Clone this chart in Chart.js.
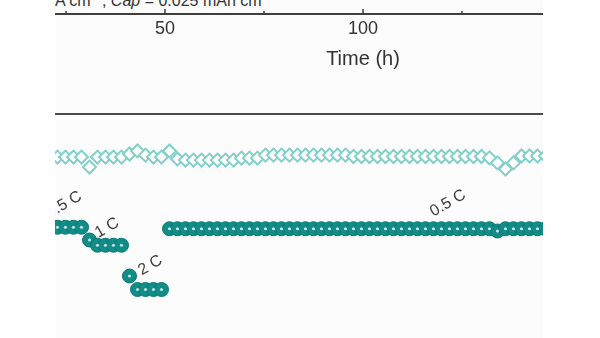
<!DOCTYPE html>
<html>
<head>
<meta charset="utf-8">
<script src="https://cdn.jsdelivr.net/npm/chart.js@4.4.1/dist/chart.umd.min.js"></script>
<style>
  html, body { margin: 0; padding: 0; background: #fff; }
  body { width: 600px; height: 338px; position: relative; overflow: hidden; }
  #frame { position: absolute; left: 55px; top: 0; width: 488px; height: 338px; overflow: hidden; background: #fcfcfc; }
  #timeChart { position: absolute; left: -92px; top: -60px; }
  #rateChart { position: absolute; left: 0; top: 112px; }
  #cond { position: absolute; right: 270px; top: -7px; font: 16px Arial, "Liberation Sans", sans-serif; line-height: 16px; color: #333; white-space: nowrap; }
  #cond sup { font-size: 10px; line-height: 0; vertical-align: 7px; }
</style>
</head>
<body>
<div id="frame">
  <div id="cond"><i>J</i> = 0.05 mA cm<sup>−2</sup>, <i>Cap</i> = 0.025 mAh cm<sup>−2</sup></div>
  <canvas id="timeChart" width="800" height="140"></canvas>
  <canvas id="rateChart" width="488" height="302"></canvas>
</div>
<script>
  /* ── data ── */
  // upper panel: time axis (h)
  var timeMin = 0, timeMax = 200, timeStep = 25;
  var labeledTimes = [50, 100, 150];

  // lower panel: rate test, one point per cycle
  var cycles = [
    1, 2, 3, 4, 5, 6, 7, 8, 9, 10,
    11, 12, 13, 14, 15, 16, 17, 18, 19, 20,
    21, 22, 23, 24, 25, 26, 27, 28, 29, 30,
    31, 32, 33, 34, 35, 36, 37, 38, 39, 40,
    41, 42, 43, 44, 45, 46, 47, 48, 49, 50,
    51, 52, 53, 54, 55, 56, 57, 58, 59, 60,
    61, 62, 63
  ];
  // capacity, mAh cm-2 (filled circles)
  var capacity = [
    0.0249, 0.0249, 0.0249, 0.0249, 0.0249, 0.0232, 0.0225, 0.0225, 0.0225, 0.0225,
    0.0184, 0.0166, 0.0166, 0.0166, 0.0166, 0.0247, 0.0247, 0.0247, 0.0247, 0.0247,
    0.0247, 0.0247, 0.0247, 0.0247, 0.0247, 0.0247, 0.0247, 0.0247, 0.0247, 0.0247,
    0.0247, 0.0247, 0.0247, 0.0247, 0.0247, 0.0247, 0.0247, 0.0247, 0.0247, 0.0247,
    0.0247, 0.0247, 0.0247, 0.0247, 0.0247, 0.0247, 0.0247, 0.0247, 0.0247, 0.0247,
    0.0247, 0.0247, 0.0247, 0.0247, 0.0247, 0.0247, 0.0244, 0.0247, 0.0247, 0.0247,
    0.0247, 0.0247, 0.0247
  ];
  // coulombic efficiency, % (hollow diamonds)
  var efficiency = [
    99.25, 99.25, 99.25, 99.25, 99.25, 98.89, 99.25, 99.25, 99.25, 99.25,
    99.36, 99.47, 99.32, 99.25, 99.25, 99.47, 99.18, 99.14, 99.14, 99.14,
    99.14, 99.14, 99.14, 99.14, 99.21, 99.21, 99.21, 99.32, 99.32, 99.32,
    99.32, 99.32, 99.32, 99.32, 99.32, 99.32, 99.32, 99.32, 99.27, 99.27,
    99.27, 99.27, 99.27, 99.27, 99.27, 99.27, 99.27, 99.27, 99.27, 99.27,
    99.27, 99.27, 99.27, 99.27, 99.27, 99.22, 99.04, 98.82, 99.04, 99.29,
    99.29, 99.29, 99.29
  ];
  // rate annotations (anchored in data units)
  var rateLabels = ['0.5 C', '1 C', '2 C', '0.5 C'];
  var rateLabelCycle = [2.8, 8.2, 13.6, 50.8];
  var rateLabelCap = [0.0279, 0.0248, 0.0198, 0.0281];

  var FONT = 'Arial, "Liberation Sans", sans-serif';

  /* ── helpers ── */
  function points(xs, ys) {
    return xs.map(function (x, i) { return { x: x, y: ys[i] }; });
  }

  // tick marks pointing into the plot (upward from bottom axis)
  var innerTicks = {
    id: 'innerTicks',
    afterDraw: function (chart) {
      var sc = chart.scales.x;
      var ctx = chart.ctx;
      var y0 = chart.chartArea.bottom - 1;
      ctx.save();
      ctx.strokeStyle = '#3a3a3a';
      ctx.lineWidth = 1.5;
      sc.ticks.forEach(function (t) {
        var px = sc.getPixelForValue(t.value);
        var len = labeledTimes.indexOf(t.value) >= 0 ? 4 : 2;
        ctx.beginPath();
        ctx.moveTo(px, y0);
        ctx.lineTo(px, y0 - len);
        ctx.stroke();
      });
      ctx.restore();
    }
  };

  var topFrame = {
    id: 'topFrame',
    afterDraw: function (chart) {
      var a = chart.chartArea;
      var ctx = chart.ctx;
      ctx.save();
      ctx.strokeStyle = '#4a4a4a';
      ctx.lineWidth = 2;
      ctx.beginPath();
      ctx.moveTo(a.left, a.top);
      ctx.lineTo(a.right, a.top);
      ctx.stroke();
      ctx.restore();
    }
  };

  var rateText = {
    id: 'rateText',
    afterDatasetsDraw: function (chart) {
      var ctx = chart.ctx;
      var sx = chart.scales.x, sy = chart.scales.y;
      ctx.save();
      ctx.fillStyle = '#3c3c3c';
      ctx.font = '16px ' + FONT;
      ctx.textAlign = 'center';
      ctx.textBaseline = 'middle';
      rateLabels.forEach(function (txt, i) {
        ctx.save();
        ctx.translate(sx.getPixelForValue(rateLabelCycle[i]), sy.getPixelForValue(rateLabelCap[i]));
        ctx.rotate(-Math.PI / 6);
        ctx.fillText(txt, 0, 0);
        ctx.restore();
      });
      ctx.restore();
    }
  };

  /* ── upper panel: only its time axis is visible ── */
  new Chart(document.getElementById('timeChart'), {
    type: 'scatter',
    data: { datasets: [{ data: [] }] },
    options: {
      responsive: false,
      animation: false,
      layout: { padding: 0, autoPadding: false },
      plugins: { legend: { display: false }, tooltip: { enabled: false } },
      scales: {
        x: {
          type: 'linear',
          position: 'bottom',
          min: timeMin,
          max: timeMax,
          afterFit: function (scale) { scale.height = 66; },
          grid: { display: false, drawTicks: false },
          border: { display: true, color: '#3f3f3f', width: 2 },
          ticks: {
            stepSize: timeStep,
            autoSkip: false,
            maxRotation: 0,
            padding: 4,
            color: '#333',
            font: { family: FONT, size: 18 },
            callback: function (v) { return labeledTimes.indexOf(v) >= 0 ? String(v) : ''; }
          },
          title: {
            display: true,
            text: 'Time (h)',
            color: '#333',
            font: { family: FONT, size: 20 },
            padding: { top: 0, bottom: 9 }
          }
        },
        y: { display: false, min: 0, max: 1 }
      }
    },
    plugins: [innerTicks]
  });

  /* ── lower panel: capacity + CE per cycle ── */
  var capPts = points(cycles, capacity);
  new Chart(document.getElementById('rateChart'), {
    type: 'scatter',
    data: {
      datasets: [
        {
          label: 'highlight',
          data: capPts,
          yAxisID: 'y',
          order: 0,
          pointRadius: 1.6,
          pointBorderWidth: 0,
          pointBackgroundColor: 'rgba(215,244,242,0.85)'
        },
        {
          label: 'Capacity',
          data: capPts,
          yAxisID: 'y',
          order: 1,
          pointRadius: 7,
          pointBorderWidth: 1,
          pointBorderColor: '#0a7773',
          pointBackgroundColor: '#118c87'
        },
        {
          label: 'CE',
          data: points(cycles, efficiency),
          yAxisID: 'y1',
          order: 2,
          pointStyle: 'rectRot',
          pointRadius: 6.5,
          pointBorderWidth: 2,
          pointBorderColor: '#82cfca',
          pointBackgroundColor: '#ffffff'
        }
      ]
    },
    options: {
      responsive: false,
      animation: false,
      layout: { padding: { top: 2, left: 0, right: 0, bottom: 0 }, autoPadding: false },
      plugins: { legend: { display: false }, tooltip: { enabled: false } },
      scales: {
        x: { type: 'linear', display: false, min: 1.6875, max: 62.6875 },
        y: { display: false, min: 0, max: 0.04 },
        y1: { display: false, position: 'right', min: 90, max: 100.8 }
      }
    },
    plugins: [topFrame, rateText]
  });
</script>
</body>
</html>
